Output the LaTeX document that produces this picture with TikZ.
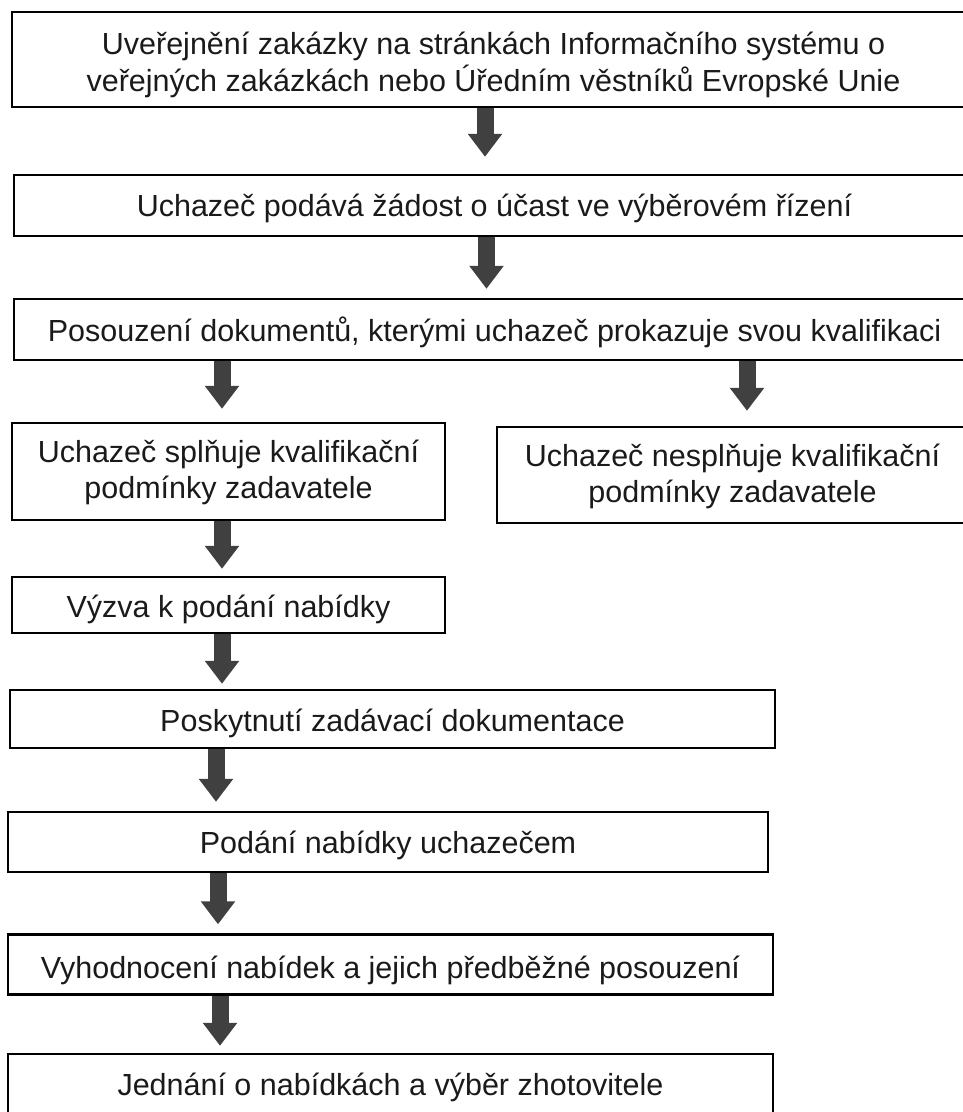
\documentclass[tikz,border=0pt]{standalone}
\usepackage{fontspec}
\setmainfont{Liberation Sans}
\usetikzlibrary{arrows.meta}
\definecolor{arrowgray}{HTML}{404040}
\definecolor{textblack}{HTML}{1A1A1A}
\newcommand\lowered[2]{\raisebox{-#1}[\height][\depth]{#2}}
\newcommand\twolines[2]{\begin{tabular}{@{}c@{}}#1\\#2\end{tabular}}
\begin{document}
\begin{tikzpicture}[x=1pt,y=-1pt,
  box/.style={draw=black, line width=2.4pt, rectangle, inner sep=0pt, align=center,
    text=textblack, font=\fontsize{30.5}{36}\selectfont},
  bigarrow/.style={draw=arrowgray, line width=17pt, -{Triangle[width=33pt,length=23pt]}}]
\path[use as bounding box] (0,0) rectangle (963,1112);
\clip (0,0) rectangle (963,1112);
\fill[white] (0,0) rectangle (963,1112);

\node[box, minimum width=963pt, minimum height=95pt] (b1) at (493.5,59.5)
  {\lowered{6pt}{\twolines{Uveřejnění zakázky na stránkách Informačního systému o}{veřejných zakázkách nebo Úředním věstníků Evropské Unie}}};
\node[box, minimum width=961pt, minimum height=61pt] (b2) at (494.5,205.5)
  {\lowered{3pt}{Uchazeč podává žádost o účast ve výběrovém řízení}};
\node[box, minimum width=961pt, minimum height=61pt] (b3) at (494.5,329.5)
  {\lowered{3pt}{Posouzení dokumentů, kterými uchazeč prokazuje svou kvalifikaci}};
\node[box, minimum width=433pt, minimum height=97pt] (b4a) at (228.5,471.5)
  {\lowered{2pt}{\twolines{Uchazeč splňuje kvalifikační}{podmínky zadavatele}}};
\node[box, minimum width=471pt, minimum height=96pt] (b4b) at (732.5,475)
  {\lowered{2pt}{\twolines{Uchazeč nesplňuje kvalifikační}{podmínky zadavatele}}};
\node[box, minimum width=433pt, minimum height=56pt] (b5) at (228.5,605)
  {\lowered{4pt}{Výzva k podání nabídky}};
\node[box, minimum width=765pt, minimum height=58pt] (b6) at (392.5,719)
  {\lowered{4pt}{Poskytnutí zadávací dokumentace}};
\node[box, minimum width=760pt, minimum height=60pt] (b7) at (388,842)
  {\lowered{3pt}{Podání nabídky uchazečem}};
\node[box, minimum width=765pt, minimum height=60pt] (b8) at (390.5,964.5)
  {\lowered{6pt}{Vyhodnocení nabídek a jejich předběžné posouzení}};
\node[box, minimum width=765pt, minimum height=64pt] (b9) at (390.5,1086)
  {\lowered{1pt}{Jednání o nabídkách a výběr zhotovitele}};

\draw[bigarrow] ([xshift=-8.5pt]b1.south) -- ([xshift=-9.5pt,yshift=17pt]b2.north);
\draw[bigarrow] ([xshift=-8pt]b2.south) -- ([xshift=-8pt,yshift=9pt]b3.north);
\draw[bigarrow] ([xshift=-272.5pt]b3.south) -- ([xshift=-6.5pt,yshift=13pt]b4a.north);
\draw[bigarrow] ([xshift=252.5pt]b3.south) -- ([xshift=14.5pt,yshift=15pt]b4b.north);
\draw[bigarrow] ([xshift=-6.5pt]b4a.south) -- ([xshift=-6.5pt,yshift=7pt]b5.north);
\draw[bigarrow] ([xshift=-6.5pt]b5.south) -- ([xshift=-170.5pt,yshift=5pt]b6.north);
\draw[bigarrow] ([xshift=-176.5pt]b6.south) -- ([xshift=-172pt,yshift=9pt]b7.north);
\draw[bigarrow] ([xshift=-170pt]b7.south) -- ([xshift=-172.5pt,yshift=9pt]b8.north);
\draw[bigarrow] ([xshift=-170.5pt]b8.south) -- ([xshift=-170.5pt,yshift=7pt]b9.north);
\end{tikzpicture}
\end{document}
